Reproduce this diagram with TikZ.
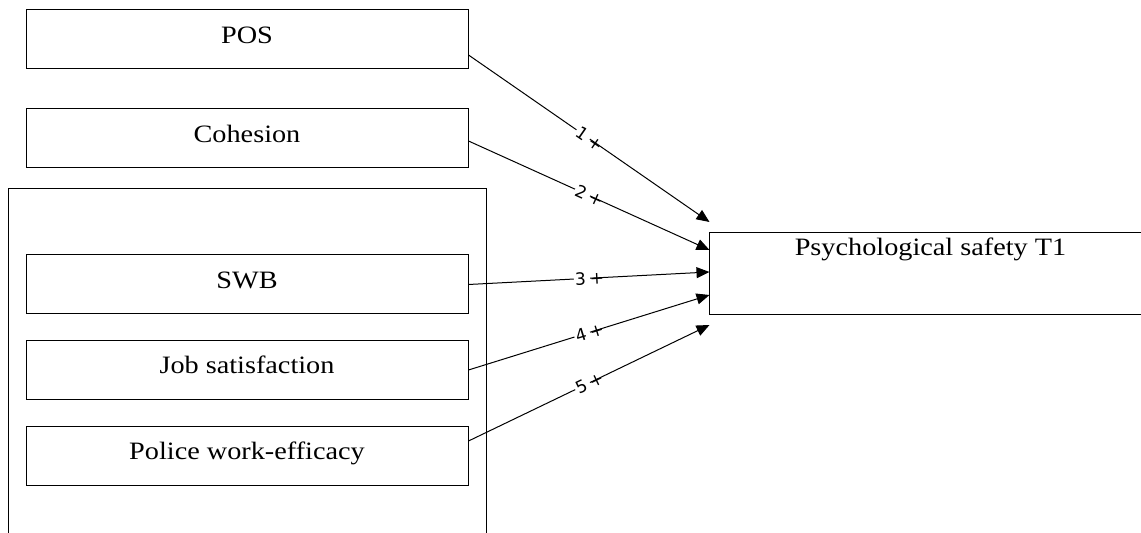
\documentclass[tikz,border=0pt]{standalone}
\usepackage{fontspec}
\setmainfont[FakeStretch=1.13]{Liberation Serif}
\newfontfamily\labfont{DejaVu Sans}
\usetikzlibrary{arrows.meta}
\newcommand{\pathno}[1]{{\fboxsep=0.6pt\colorbox{white}{#1\,}}+}
\begin{document}
\begin{tikzpicture}[x=0.5pt,y=-0.5pt,
  var/.style={draw,line width=.5pt,minimum width=221pt,minimum height=29.5pt,inner sep=0pt,text height=16.6pt,text depth=12.9pt,font=\fontsize{12.5}{15}\selectfont},
  link/.style={line width=.5pt,-{Triangle[length=6.5pt,width=5.5pt]}},
  coef/.style={midway,sloped,inner sep=0pt,font=\labfont\fontsize{8.5}{10}\selectfont}]
\useasboundingbox (0,0) rectangle (1141,533);\clip (0,0) rectangle (1141,533);
\node[var] (pos) at (247,39.5) {POS};
\node[var] (coh) at (247,138.5) {Cohesion};
\draw[line width=.5pt] (8,189) rectangle (486,600);
\node[var] (swb) at (247,284.5) {SWB};
\node[var] (job) at (247,370) {Job satisfaction};
\node[var] (pwe) at (247,456) {Police work-efficacy};
\node[var,anchor=north west,minimum height=41pt,text height=11.5pt,text depth=29.5pt] (psy) at (709,232) {Psychological safety T1};
\coordinate (t1) at (709.5,222);\coordinate (t2) at (709.5,250);\coordinate (t3) at (709.5,272);
\coordinate (t4) at (709.5,295);\coordinate (t5) at (709.5,325);
\draw[link] ([yshift=-7.75pt]pos.east) -- (t1) node[coef] {\pathno{1}};
\draw[link] ([yshift=-1.25pt]coh.east) -- (t2) node[coef] {\pathno{2}};
\draw[link] (swb.east) -- (t3) node[coef] {\pathno{3}};
\draw[link] (job.east) -- (t4) node[coef] {\pathno{4}};
\draw[link] ([yshift=7.5pt]pwe.east) -- (t5) node[coef] {\pathno{5}};
\end{tikzpicture}
\end{document}
